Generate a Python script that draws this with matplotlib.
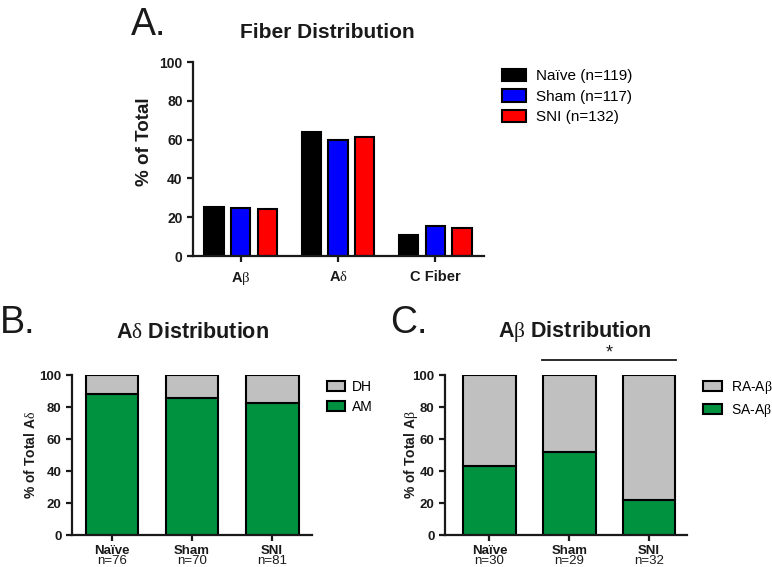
import matplotlib
matplotlib.use("Agg")
import numpy as np
import matplotlib.pyplot as plt

plt.rcParams['font.family'] = ['Liberation Sans', 'DejaVu Sans']
plt.rcParams['mathtext.fontset'] = 'custom'
plt.rcParams['mathtext.rm'] = 'Liberation Serif'
plt.rcParams['mathtext.it'] = 'Liberation Serif'
plt.rcParams['mathtext.bf'] = 'Liberation Serif:bold'

# panel A data
fiber_types = ['A$\\beta$', 'A$\\delta$', 'C Fiber']
group_labels = ['Naïve (n=119)', 'Sham (n=117)', 'SNI (n=132)']
naive_pct = [25.2, 63.9, 10.9]
sham_pct = [24.8, 59.8, 15.4]
sni_pct = [24.2, 61.4, 14.4]

# panel B/C data
groups = ['Naïve', 'Sham', 'SNI']
adelta_n = [76, 70, 81]
am_pct = [88.2, 85.7, 82.7]
abeta_n = [30, 29, 32]
sa_pct = [43.3, 51.7, 21.9]

green = '#00923f'
gray = '#c0c0c0'
txt = '#1a1a1a'


def style_axis(ax, size):
    for s in ['top', 'right']:
        ax.spines[s].set_visible(False)
    for s in ['left', 'bottom']:
        ax.spines[s].set_linewidth(1.6)
        ax.spines[s].set_color(txt)
    ax.tick_params(width=1.6, length=4, labelsize=size, colors=txt)
    ax.set_ylim(0, 100)
    ax.set_yticks([0, 20, 40, 60, 80, 100])
    for lab in ax.get_yticklabels() + ax.get_xticklabels():
        lab.set_fontweight('bold')


fig = plt.figure(figsize=(7.72, 5.67), dpi=100)

# ---- A. fiber distribution
axA = fig.add_axes([0.250, 0.5485, 0.377, 0.342])
x = np.arange(len(fiber_types))
offs = [-0.274, 0, 0.274]
bars = []
for vals, col, off in zip([naive_pct, sham_pct, sni_pct], ['black', '#0000ff', '#ff0000'], offs):
    bars.append(axA.bar(x + off, vals, 0.2, color=col, edgecolor='black', linewidth=1.5))
axA.set_xlim(-0.49, 2.5)
axA.set_xticks(x)
axA.set_xticklabels(fiber_types)
style_axis(axA, 10)
axA.tick_params(axis='x', pad=6, labelsize=10.5)
axA.set_ylabel('% of Total', fontsize=13.5, fontweight='bold', color=txt)
axA.yaxis.set_label_coords(-0.137, 0.588)
axA.legend(bars, group_labels, loc='upper left', bbox_to_anchor=(502 / 772, 1 - 69 / 567),
           bbox_transform=fig.transFigure, frameon=False, fontsize=11, handlelength=1.6,
           handleheight=0.85, labelspacing=0.4, handletextpad=0.65, borderpad=0, borderaxespad=0)

# ---- B. A-delta distribution
axB = fig.add_axes([0.0933, 0.0564, 0.311, 0.282])
xb = np.arange(len(groups))
dh_pct = [100 - v for v in am_pct]
am = axB.bar(xb, am_pct, 0.66, color=green, edgecolor='black', linewidth=1.5)
dh = axB.bar(xb, dh_pct, 0.66, bottom=am_pct, color=gray, edgecolor='black', linewidth=1.5)
axB.set_xlim(-0.5, 2.5)
axB.set_xticks(xb)
axB.set_xticklabels(groups)
style_axis(axB, 9.5)
axB.tick_params(axis='x', pad=3)
axB.set_ylabel('% of Total A$\\delta$', fontsize=10, fontweight='bold', color=txt)
axB.yaxis.set_label_coords(-0.142, 0.5)
for i, n in enumerate(adelta_n):
    axB.annotate('n=%d' % n, xy=(i, 0), xycoords=('data', 'axes fraction'), xytext=(0, -14.5),
                 textcoords='offset points', ha='center', va='top', fontsize=9.5, color=txt)
axB.legend([dh, am], ['DH', 'AM'], loc='upper left', bbox_to_anchor=(327 / 772, 1 - 380 / 567),
           bbox_transform=fig.transFigure, frameon=False, fontsize=10, handlelength=1.3,
           handleheight=0.7, labelspacing=0.4, handletextpad=0.5, borderpad=0, borderaxespad=0)

# ---- C. A-beta distribution
axC = fig.add_axes([0.5764, 0.0564, 0.313, 0.282])
ra_pct = [100 - v for v in sa_pct]
sa = axC.bar(xb, sa_pct, 0.66, color=green, edgecolor='black', linewidth=1.5)
ra = axC.bar(xb, ra_pct, 0.66, bottom=sa_pct, color=gray, edgecolor='black', linewidth=1.5)
axC.set_xlim(-0.556, 2.47)
axC.set_xticks(xb)
axC.set_xticklabels(groups)
style_axis(axC, 9.5)
axC.tick_params(axis='x', pad=3)
axC.set_ylabel('% of Total A$\\beta$', fontsize=10, fontweight='bold', color=txt)
axC.yaxis.set_label_coords(-0.103, 0.5)
for i, n in enumerate(abeta_n):
    axC.annotate('n=%d' % n, xy=(i, 0), xycoords=('data', 'axes fraction'), xytext=(0, -14.5),
                 textcoords='offset points', ha='center', va='top', fontsize=9.5, color=txt)
axC.legend([ra, sa], ['RA-A$\\beta$', 'SA-A$\\beta$'], loc='upper left',
           bbox_to_anchor=(703 / 772, 1 - 379 / 567), bbox_transform=fig.transFigure,
           frameon=False, fontsize=10, handlelength=1.35, handleheight=0.7, labelspacing=0.4,
           handletextpad=0.65, borderpad=0, borderaxespad=0)
# significance bar Sham vs SNI
axC.plot([1 - 0.34, 2 + 0.34], [109.4, 109.4], color=txt, lw=1.3, clip_on=False)
axC.text(1.5, 108.3, '*', ha='center', va='bottom', fontsize=13, color=txt)

# titles and panel letters
fig.text(327 / 772, 1 - 32 / 567, 'Fiber Distribution', ha='center', va='center',
         fontsize=15, fontweight='bold', color=txt)
fig.text(192 / 772, 1 - 332 / 567, 'A$\\delta$ Distribution', ha='center', va='center',
         fontsize=15.5, fontweight='bold', color=txt)
fig.text(575 / 772, 1 - 332 / 567, 'A$\\beta$ Distribution', ha='center', va='center',
         fontsize=15.5, fontweight='bold', color=txt)
fig.text(131 / 772, 1 - 25 / 567, 'A.', ha='left', va='center', fontsize=27, color=txt)
fig.text(0 / 772, 1 - 323 / 567, 'B.', ha='left', va='center', fontsize=27, color=txt)
fig.text(390 / 772, 1 - 323 / 567, 'C.', ha='left', va='center', fontsize=27, color=txt)

fig.savefig('out.png', dpi=100)
